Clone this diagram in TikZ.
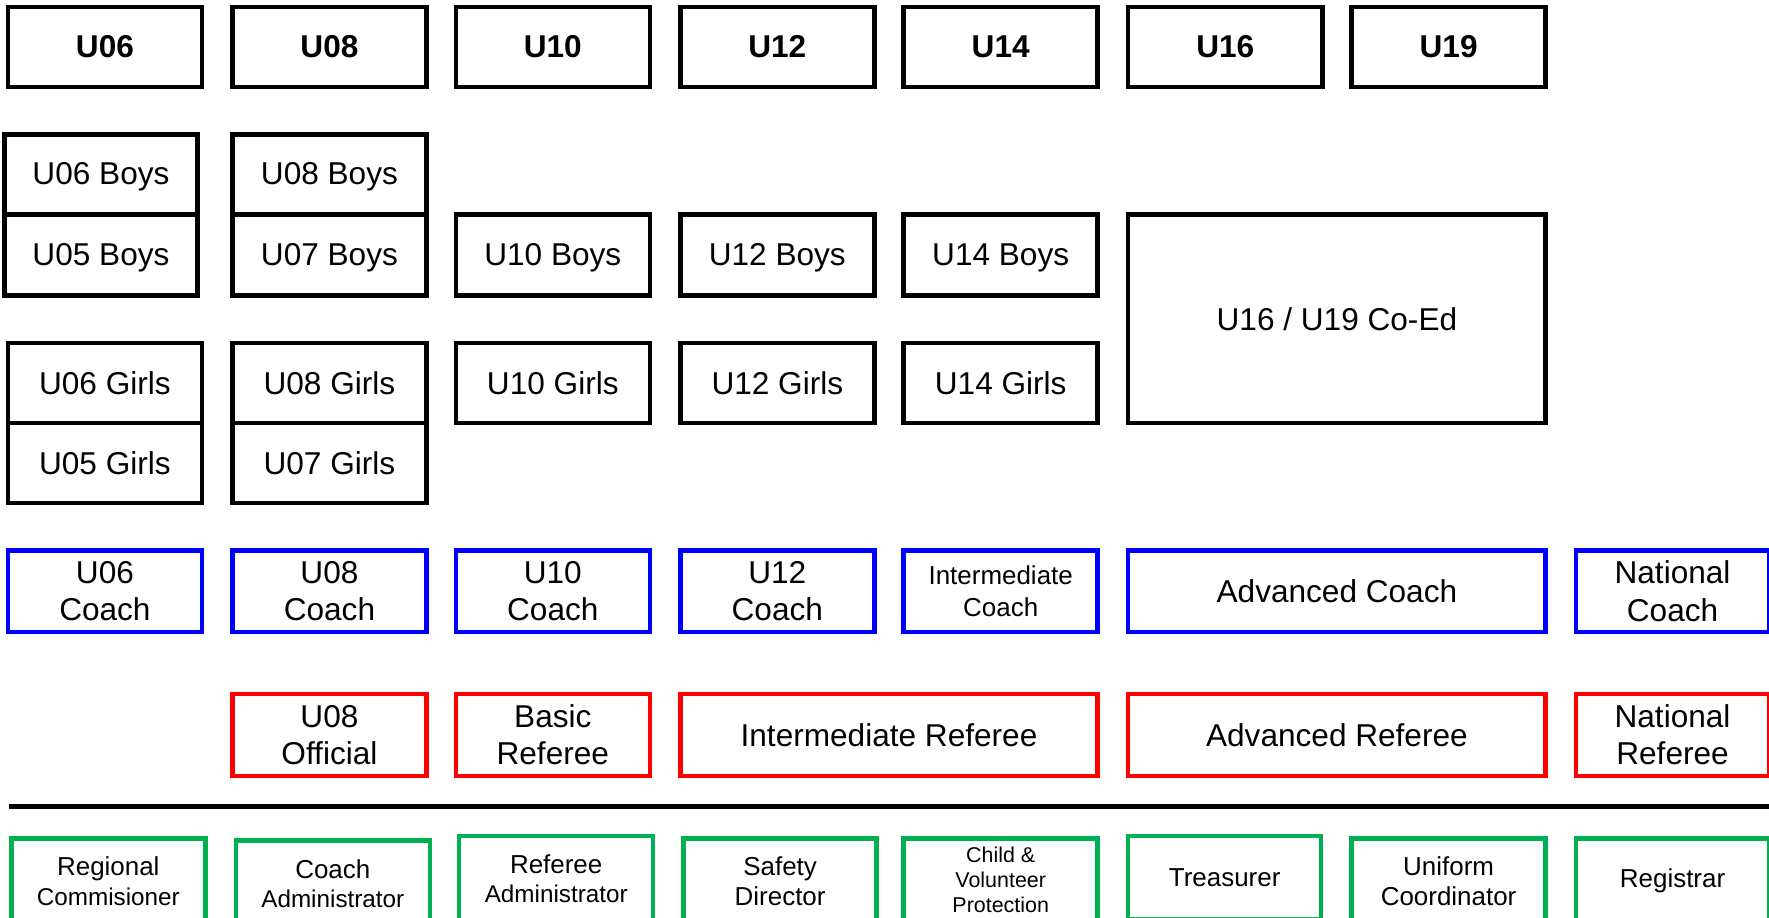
\documentclass[tikz,border=0pt]{standalone}
\usepackage{fontspec}
\setmainfont{Liberation Sans}
\begin{document}
\begin{tikzpicture}[x=1pt,y=-1pt,
  base/.style={draw, line width=4pt, inner sep=0pt, outer sep=0pt, anchor=north west, align=center},
  hdr/.style={base, black, font=\fontsize{28}{33}\selectfont\bfseries, text=black},
  team/.style={base, black, font=\fontsize{28}{33}\selectfont, text=black},
  coach/.style={base, draw={rgb,255:red,0;green,0;blue,255}, font=\fontsize{28}{33}\selectfont, text=black},
  referee/.style={base, draw={rgb,255:red,255;green,0;blue,0}, font=\fontsize{28}{33}\selectfont, text=black},
  admin/.style={base, draw={rgb,255:red,0;green,176;blue,80}, font=\fontsize{23}{26}\selectfont, text=black},
  wsm/.style={minimum width=172pt},
  wlg/.style={minimum width=370pt}
]
\useasboundingbox (0,0) rectangle (1568,813.6);
\clip (0,0) rectangle (1568,813.6);

% header row
\node[hdr, wsm, minimum height=71pt] (h06) at (7,6) {U06};
\node[hdr, wsm, minimum height=71pt] (h08) at (206,6) {U08};
\node[hdr, wsm, minimum height=71pt] (h10) at (404,6) {U10};
\node[hdr, wsm, minimum height=71pt] (h12) at (603,6) {U12};
\node[hdr, wsm, minimum height=71pt] (h14) at (801,6) {U14};
\node[hdr, wsm, minimum height=71pt] (h16) at (1000,6) {U16};
\node[hdr, wsm, minimum height=71pt] (h19) at (1198,6) {U19};

% boys
\node[team, minimum width=171pt, minimum height=71pt, text depth=1pt] (b06) at (4,119) {U06 Boys};
\node[team, minimum width=171pt, minimum height=72pt, text depth=1pt] (b05) at (4,190) {U05 Boys};
\node[team, wsm, minimum height=71pt, text depth=1pt] (b08) at (206,119) {U08 Boys};
\node[team, wsm, minimum height=72pt, text depth=1pt] (b07) at (206,190) {U07 Boys};
\node[team, wsm, minimum height=72pt, text depth=1pt] (b10) at (404,190) {U10 Boys};
\node[team, wsm, minimum height=72pt, text depth=1pt] (b12) at (603,190) {U12 Boys};
\node[team, wsm, minimum height=72pt, text depth=1pt] (b14) at (801,190) {U14 Boys};
\node[team, wlg, minimum height=185pt] (coed) at (1000,190) {U16 / U19 Co-Ed};

% girls
\node[team, wsm, minimum height=71pt] (g06) at (7,304) {U06 Girls};
\node[team, wsm, minimum height=71pt] (g05) at (7,375) {U05 Girls};
\node[team, wsm, minimum height=71pt] (g08) at (206,304) {U08 Girls};
\node[team, wsm, minimum height=71pt] (g07) at (206,375) {U07 Girls};
\node[team, wsm, minimum height=71pt] (g10) at (404,304) {U10 Girls};
\node[team, wsm, minimum height=71pt] (g12) at (603,304) {U12 Girls};
\node[team, wsm, minimum height=71pt] (g14) at (801,304) {U14 Girls};

% coaches
\node[coach, wsm, minimum height=72pt] (c06) at (7,488) {U06\\Coach};
\node[coach, wsm, minimum height=72pt] (c08) at (206,488) {U08\\Coach};
\node[coach, wsm, minimum height=72pt] (c10) at (404,488) {U10\\Coach};
\node[coach, wsm, minimum height=72pt] (c12) at (603,488) {U12\\Coach};
\node[coach, wsm, minimum height=72pt, font=\fontsize{23}{28}\selectfont] (cint) at (801,488) {Intermediate\\Coach};
\node[coach, wlg, minimum height=72pt] (cadv) at (1000,488) {Advanced Coach};
\node[coach, minimum width=171pt, minimum height=72pt] (cnat) at (1397,488) {National\\Coach};

% referees
\node[referee, wsm, minimum height=73pt] (r08) at (206,615) {U08\\Official};
\node[referee, wsm, minimum height=73pt] (rbas) at (404,615) {Basic\\Referee};
\node[referee, wlg, minimum height=73pt] (rint) at (603,615) {Intermediate Referee};
\node[referee, wlg, minimum height=73pt] (radv) at (1000,615) {Advanced Referee};
\node[referee, minimum width=171pt, minimum height=73pt] (rnat) at (1397,615) {National\\Referee};

% divider
\coordinate (divL) at (8,715);
\coordinate (divR) at (1580,715);
\draw[line width=4pt, black] (divL) -- (divR);

% administration
\node[admin, wsm, minimum height=76pt] (a1) at (10,743) {Regional\\{\fontsize{21.5}{26}\selectfont Commisioner}};
\node[admin, wsm, minimum height=76pt] (a2) at (209,745) {Coach\\{\fontsize{21.5}{26}\selectfont Administrator}};
\node[admin, wsm, minimum height=76pt] (a3) at (407,741) {Referee\\{\fontsize{21.5}{26}\selectfont Administrator}};
\node[admin, minimum width=171pt, minimum height=76pt] (a4) at (606,743) {Safety\\Director};
\node[admin, wsm, minimum height=74pt, font=\fontsize{19}{22}\selectfont] (a5) at (801,743) {Child \&\\Volunteer\\Protection};
\node[admin, minimum width=171pt, minimum height=74pt] (a6) at (1000,741) {Treasurer};
\node[admin, wsm, minimum height=76pt] (a7) at (1198,743) {Uniform\\Coordinator};
\node[admin, minimum width=171pt, minimum height=76pt] (a8) at (1397,743) {Registrar};
\end{tikzpicture}
\end{document}
